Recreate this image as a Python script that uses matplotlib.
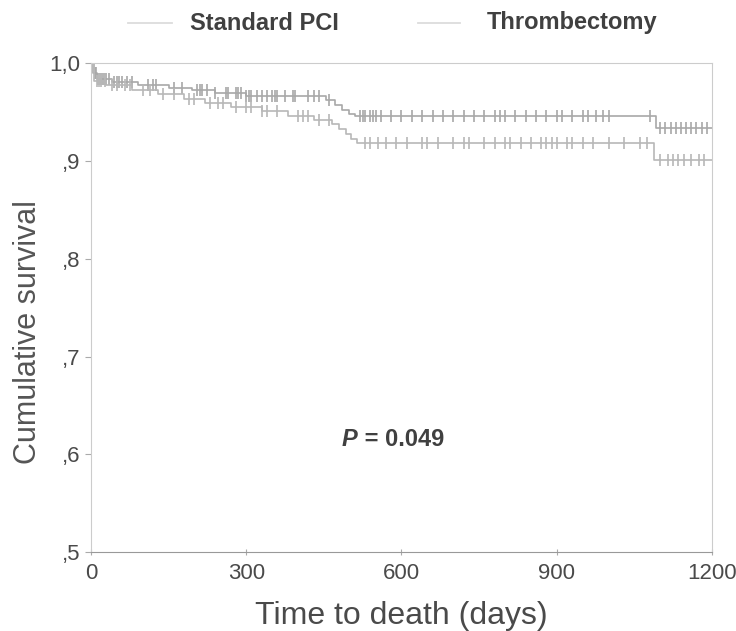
import numpy as np
import matplotlib
matplotlib.use('Agg')
from matplotlib import pyplot as plt

plt.rcParams['font.family'] = ['Liberation Sans', 'DejaVu Sans']

# step points (day, cumulative survival)
thromb_t = [0, 4, 12, 40, 90, 150, 195, 240, 300, 455, 472, 485, 498, 510, 1092]
thromb_s = [1.0, 0.990, 0.984, 0.981, 0.978, 0.975, 0.972, 0.969, 0.966, 0.962, 0.957, 0.952, 0.948, 0.946, 0.934]
pci_t = [0, 6, 30, 80, 130, 180, 220, 270, 330, 380, 430, 465, 480, 492, 502, 515, 1088]
pci_s = [1.0, 0.982, 0.978, 0.972, 0.968, 0.963, 0.959, 0.955, 0.951, 0.946, 0.942, 0.938, 0.933, 0.928, 0.922, 0.918, 0.901]

# censored cases (days)
thromb_cens = [8, 10, 14, 18, 22, 25, 30, 35, 45, 50, 55, 60, 70, 80, 110, 120, 125, 160, 175,
               205, 210, 215, 225, 240, 260, 265, 280, 285, 290, 300, 305, 310, 320, 330, 340,
               350, 355, 360, 375, 390, 395, 420, 430, 440, 460, 520, 525, 530, 540, 545, 550,
               560, 580, 600, 620, 640, 660, 680, 700, 720, 740, 760, 780, 790, 800, 820, 840,
               860, 880, 900, 910, 930, 950, 960, 975, 990, 1000, 1080, 1100, 1110, 1120, 1130,
               1140, 1150, 1160, 1170, 1180, 1190]
pci_cens = [5, 12, 16, 20, 28, 40, 50, 65, 75, 100, 115, 140, 160, 190, 200, 230, 245, 255,
            280, 300, 310, 330, 340, 360, 400, 410, 420, 440, 460, 530, 540, 555, 570, 590,
            610, 640, 650, 670, 700, 720, 730, 760, 780, 800, 810, 830, 850, 870, 880, 890,
            900, 920, 930, 950, 970, 1000, 1030, 1060, 1075, 1100, 1115, 1125, 1135, 1145,
            1160, 1175, 1185]

yticks = [0.5, 0.6, 0.7, 0.8, 0.9, 1.0]
ylabels = [',5', ',6', ',7', ',8', ',9', '1,0']
xticks = [0, 300, 600, 900, 1200]

fig = plt.figure(figsize=(7.36, 6.31), dpi=100)
ax = fig.add_axes([0.1236, 0.125, 0.8438, 0.775])

def draw(t, s, cens, color):
    t = list(t) + [1200]
    s = list(s) + [s[-1]]
    ax.step(t, s, where='post', color=color, lw=1.2)
    idx = np.searchsorted(t, cens, side='right') - 1
    ax.plot(cens, np.array(s)[idx], ls='none', marker='|', ms=8, mew=1.2, color=color)

draw(thromb_t, thromb_s, thromb_cens, '#a8a8a8')
draw(pci_t, pci_s, pci_cens, '#b8b8b8')

ax.set_xlim(0, 1200)
ax.set_ylim(0.5, 1.0)
ax.set_xticks(xticks)
ax.set_yticks(yticks)
ax.set_yticklabels(ylabels)
for sp in ax.spines.values():
    sp.set_color('#cccccc')
ax.spines['bottom'].set_color('#999999')
ax.tick_params(axis='both', colors='#aaaaaa', labelcolor='#4a4a4a', labelsize=16, length=4)
ax.tick_params(axis='x', direction='inout', pad=6)

ax.set_xlabel('Time to death (days)', fontsize=23, color='#4a4a4a', labelpad=12)
ax.set_ylabel('Cumulative survival', fontsize=22, color='#555555')
ax.yaxis.set_label_coords(-0.078, 0.45)

pt = ax.text(485, 0.615, 'P', fontsize=17, fontweight='bold', fontstyle='italic',
             color='#404040', ha='left', va='center')
ax.annotate(' = 0.049', xy=(1, 0.5), xycoords=pt, fontsize=17, fontweight='bold',
            color='#404040', ha='left', va='center')

# legend above the plot
fig.add_artist(plt.Line2D([128 / 736, 172 / 736], [1 - 23 / 631] * 2, color='#dcdcdc', lw=1.3))
fig.add_artist(plt.Line2D([418 / 736, 460 / 736], [1 - 23 / 631] * 2, color='#dcdcdc', lw=1.3))
fig.text(190 / 736, 1 - 23 / 631, 'Standard PCI', fontsize=17, fontweight='bold',
         color='#404040', va='center')
fig.text(487 / 736, 1 - 23 / 631, 'Thrombectomy', fontsize=17, fontweight='bold',
         color='#404040', va='center')

plt.savefig('out.png', dpi=100)
